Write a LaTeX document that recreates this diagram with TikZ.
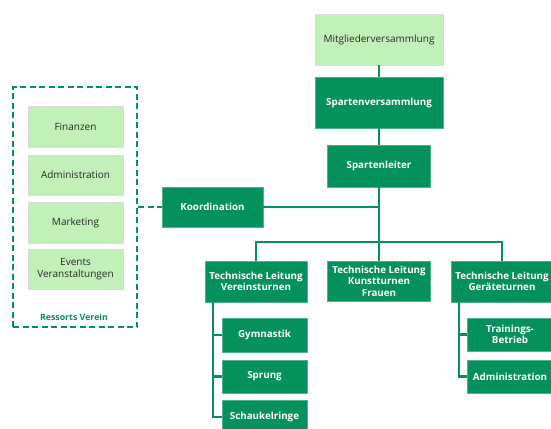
\documentclass[tikz,border=0pt]{standalone}
\usepackage{fontspec}
\setmainfont{Open Sans}
\definecolor{dkgreen}{RGB}{4,145,92}
\definecolor{ltgreen}{RGB}{193,241,184}
\definecolor{txtgray}{RGB}{40,40,40}
\begin{document}
\begin{tikzpicture}[x=1pt,y=-1pt,
  dbox/.style={fill=dkgreen,draw=dkgreen!70!white,line width=0.6pt,text=white,font=\fontsize{9.8}{11.5}\selectfont\bfseries,align=center,inner sep=0pt},
  lbox/.style={fill=ltgreen,draw=black!15,line width=0.6pt,text=txtgray,font=\fontsize{10}{11.5}\selectfont,align=center,inner sep=0pt},
  conn/.style={draw=dkgreen,line width=2.2pt},
  dconn/.style={draw=dkgreen,line width=2pt,dash pattern=on 6pt off 3.5pt}]
\useasboundingbox (0,0) rectangle (551,428);
\fill[white] (0,0) rectangle (551,428);
% dashed ressorts frame
\node[dconn,minimum width=124pt,minimum height=240pt,inner sep=0pt] (ress) at (75,207) {};
\node[text=dkgreen,font=\fontsize{8.8}{10}\selectfont\bfseries] (resslbl) at (74,317) {Ressorts Verein};
\node[lbox,minimum width=95pt,minimum height=41pt] (fin) at (75.5,126.5) {Finanzen};
\node[lbox,minimum width=95pt,minimum height=40pt] (adm) at (75.5,175) {Administration};
\node[lbox,minimum width=95pt,minimum height=41pt] (mkt) at (75.5,222.5) {Marketing};
\node[lbox,minimum width=95pt,minimum height=40pt] (evt) at (75.5,269) {Events\\Veranstaltungen};
% main chain
\node[lbox,minimum width=128pt,minimum height=51pt] (mv) at (379,39.5) {Mitgliederversammlung};
\node[dbox,minimum width=128pt,minimum height=51pt] (sv) at (379,102.5) {Spartenversammlung};
\node[dbox,minimum width=103pt,minimum height=42pt] (sl) at (379,166) {Spartenleiter};
\node[dbox,minimum width=101pt,minimum height=40pt] (ko) at (212.5,207) {Koordination};
\node[dbox,minimum width=102pt,minimum height=41pt] (tlv) at (256,281.5) {Technische Leitung\\Vereinsturnen};
\node[dbox,minimum width=103pt,minimum height=40pt] (tlk) at (379,281) {Technische Leitung\\Kunstturnen\\Frauen};
\node[dbox,minimum width=102pt,minimum height=41pt] (tlg) at (502,281.5) {Technische Leitung\\Geräteturnen};
\node[dbox,minimum width=85pt,minimum height=34pt] (gym) at (264.5,335) {Gymnastik};
\node[dbox,minimum width=85pt,minimum height=33pt] (spr) at (264.5,376.5) {Sprung};
\node[dbox,minimum width=85pt,minimum height=33pt] (sch) at (264.5,417) {Schaukelringe};
\node[dbox,minimum width=86pt,minimum height=33pt] (tb) at (510,334.5) {Trainings-\\Betrieb};
\node[dbox,minimum width=86pt,minimum height=33pt] (adm2) at (510,376.5) {Administration};
\coordinate (bus) at (379,242);
% connectors
\draw[conn] (mv.south) -- (sv.north);
\draw[conn] (sv.south) -- (sl.north);
\draw[conn] (sl.south) -- (tlk.north);
\draw[conn] (tlv.north) |- (bus) -| (tlg.north);
\draw[conn] (ko.east) -- (ko.east -| sl.south);
\draw[dconn] (ress.east) -- (ko.west);
\draw[conn] ([xshift=-43pt]tlv.south) |- (gym.west);
\draw[conn] ([xshift=-43pt]tlv.south) |- (spr.west);
\draw[conn] ([xshift=-43pt]tlv.south) |- (sch.west);
\draw[conn] ([xshift=-43pt]tlg.south) |- (tb.west);
\draw[conn] ([xshift=-43pt]tlg.south) |- (adm2.west);
\end{tikzpicture}
\end{document}
